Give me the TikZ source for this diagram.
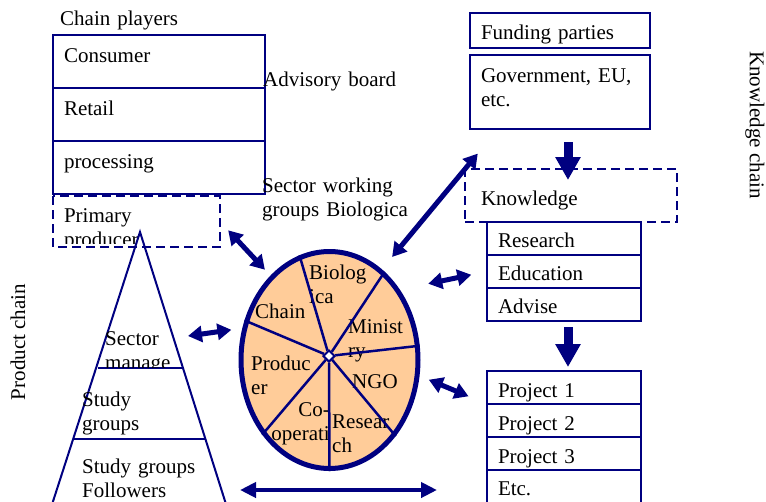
\documentclass[tikz,border=0pt]{standalone}
\usepackage{fontspec}
\setmainfont{Liberation Serif}
\usepackage{tikz}
\usetikzlibrary{arrows.meta,positioning,shapes.geometric}
\definecolor{NavyLine}{HTML}{000080}
\definecolor{Peach}{HTML}{FFCC99}

\begin{document}
\begin{tikzpicture}[
    x=1pt, y=-1pt,
    font=\fontsize{21}{24}\selectfont,
    cell/.style={draw=NavyLine, line width=2.3pt, outer sep=0pt, inner xsep=11pt, inner ysep=0pt, align=left, anchor=north west},
    dashcell/.style={cell, dash pattern=on 9pt off 5pt},
    dashline/.style={draw=NavyLine, line width=2.3pt, dash pattern=on 9pt off 5pt},
    chainrow/.style={cell, text width=190pt, text height=27pt, text depth=26pt},
    knowrow/.style={cell, text width=132pt, text height=25pt, text depth=8pt},
    projrow/.style={cell, text width=132pt, text height=26pt, text depth=7pt},
    lbl/.style={anchor=base west, inner sep=0pt, align=left, text width=#1},
    lbl/.default=150pt,
    dbl/.style={{Triangle[length=14pt,width=16pt]}-{Triangle[length=14pt,width=16pt]}, line width=5pt, draw=NavyLine},
    dblwide/.style={{Triangle[length=16pt,width=15pt]}-{Triangle[length=16pt,width=15pt]}, line width=4.5pt, draw=NavyLine},
    bigarr/.style={-{Triangle[length=23pt,width=24pt]}, line width=9pt, draw=NavyLine},
    pieline/.style={draw=NavyLine, line width=2.5pt},
    triline/.style={draw=NavyLine, line width=2pt}
]
\useasboundingbox (0,0) rectangle (766,501);
\clip (0,0) rectangle (766,501);

% chain players stack
\node[lbl] (players) at (60,25) {Chain players};
\node[chainrow] (consumer) at (53,35) {Consumer};
\node[chainrow, below=0pt of consumer] (retail) {Retail};
\node[chainrow, below=0pt of retail] (processing) {processing};
\begin{scope}
  \clip (53,196) rectangle (220,243);
  \node[cell, draw=none, text width=145pt, text height=26pt, text depth=25pt] (primary) at (53,196) {Primary\\producer};
\end{scope}
\draw[dashline] (primary.north west) rectangle (primary.south east);

\node[lbl] (advisory) at (263,86) {Advisory board};
\node[lbl] (working) at (262,192) {Sector working\\groups Biologica};

% funding and knowledge side
\node[cell, text width=158pt, text height=26.5pt, text depth=8.5pt] (funding) at (470,13) {Funding parties};
\node[cell, text width=158pt, text height=27pt, text depth=47pt, below=7pt of funding] (gov) {Government, EU,\\etc.};
\node[dashcell, text width=180pt, inner xsep=16pt, text height=36pt, text depth=17pt] (know) at (465,169) {Knowledge};
\node[knowrow] (research) at (487,222) {Research};
\node[knowrow, below=0pt of research] (educ) {Education};
\node[knowrow, below=0pt of educ] (advise) {Advise};
\node[projrow] (proj1) at (487,371) {Project 1};
\node[projrow, below=0pt of proj1] (proj2) {Project 2};
\node[projrow, below=0pt of proj2] (proj3) {Project 3};
\node[cell, text width=132pt, text height=25pt, text depth=15pt, below=0pt of proj3] (etc) {Etc.};

\node[rotate=-90] (knowchain) at (755,125) {Knowledge chain};
\node[rotate=90] (prodchain) at (18,342) {Product chain};

% product chain triangle
\coordinate (apex) at (140,232);
\draw[triline] (47,520) -- (apex) -- (231,520);
\draw[triline] (98,368) -- (183,368);
\draw[triline] (73,439) -- (205,439);
\begin{scope}
  \clip (90,320) rectangle (200,367);
  \node[lbl=90pt] (sector) at (105,345) {Sector\\manage};
\end{scope}
\node[lbl=90pt] (study) at (82,406) {Study\\groups};
\node[lbl] (followers) at (82,473) {Study groups\\Followers};

% sector working groups pie
\node[ellipse, draw=NavyLine, fill=Peach, line width=5pt, minimum width=177pt, minimum height=217pt] (pie) at (329.5,360) {};
\node[lbl=80pt] (biologica) at (309,279) {Biolog\\ica};
\node[lbl=80pt] (chain) at (255,318) {Chain};
\node[lbl=80pt] (ministry) at (348,333) {Minist\\ry};
\node[lbl=80pt] (producer) at (251,370) {Produc\\er};
\node[lbl=80pt] (ngo) at (352,388) {NGO};
\node[lbl=70pt, anchor=base east, align=right] (coop) at (330,416) {Co-\\operati};
\node[lbl=80pt] (researchgr) at (332,428) {Resear\\ch};
\node[diamond, draw=NavyLine, fill=white, line width=2pt, minimum size=12pt, inner sep=0pt] (hub) at (329,356) {};
\foreach \ang in {106,58,9,311,270,228,155}
  \draw[pieline] (hub) -- (pie.\ang);

% links between the chains
\coordinate (sector side) at (188,336);
\coordinate (tri foot) at (221,490);
\draw[dbl, shorten <=12pt, shorten >=8pt] (primary.east) -- (pie.125);
\draw[dbl, shorten <=16pt, shorten >=-20pt] (pie.60) -- (know.north west);
\draw[dbl, shorten >=11pt] (sector side) -- (pie.160);
\draw[dbl, shorten <=29pt, shorten >=16pt] (pie.45) -- (educ.west);
\draw[dbl, shorten <=10pt, shorten >=20pt] (pie.350) -- (proj1.south west);
\draw[dblwide, shorten <=19pt, shorten >=50pt] (tri foot) -- (etc.west);
\draw[bigarr, shorten <=13pt, shorten >=-11pt] ([xshift=8pt]gov.south) -- ([xshift=-3pt]know.north);
\draw[bigarr, shorten <=6pt, shorten >=4pt] ([xshift=4pt]advise.south) -- ([xshift=4pt]proj1.north);
\end{tikzpicture}
\end{document}
